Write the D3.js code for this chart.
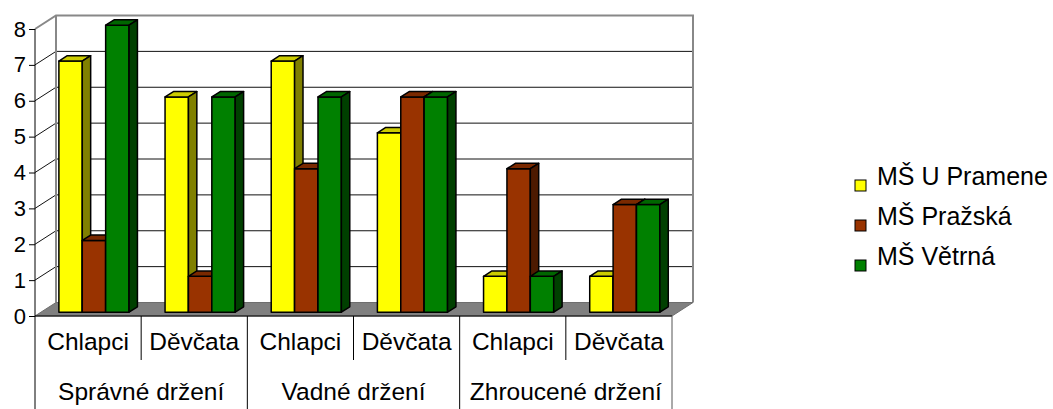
<!DOCTYPE html>
<html>
<head>
<meta charset="utf-8">
<script src="https://cdn.jsdelivr.net/npm/d3@7"></script>
<style>
  body { margin: 0; background: #fff; }
  svg { display: block; font-family: 'Liberation Sans', Arial, sans-serif; }
</style>
</head>
<body>
<svg id="chart" width="1053" height="409"></svg>
<script>
/* ----------  DATA  ---------- */
const categories = ['Chlapci', 'Děvčata', 'Chlapci', 'Děvčata', 'Chlapci', 'Děvčata']
const groups = ['Správné držení', 'Vadné držení', 'Zhroucené držení']
const seriesNames = ['MŠ U Pramene', 'MŠ Pražská', 'MŠ Větrná']
const uPramene = [7, 6, 7, 5, 1, 1]
const prazska = [2, 1, 4, 6, 4, 3]
const vetrna = [8, 6, 6, 6, 1, 3]
const tickValues = [0, 1, 2, 3, 4, 5, 6, 7, 8]

const seriesValues = [uPramene, prazska, vetrna]

/* ----------  LAYOUT  ---------- */
const left = 35
const right = 672
const DX = 21 // depth offset front -> back wall
const DY = -13.5
const F0 = 0.28 // bar front depth
const F1 = 0.68 // bar back depth

const colors = {
  front: ['#ffff00', '#993300', '#008000'],
  top: ['#cccc00', '#7a2900', '#006600'],
  side: ['#808000', '#4d1a00', '#004000']
}

const svg = d3.select('#chart')

const y = d3.scaleLinear().domain([0, 8]).range([316, 29])
const x = d3.scaleBand().domain(d3.range(categories.length)).range([left, right])
const inner = d3.scaleBand().domain(d3.range(seriesNames.length))
  .range([0, x.bandwidth()]).paddingOuter(0.77)

// project (front x, value, depth fraction) to screen
const P = (px, v, f) => [px + f * DX, y(v) + f * DY]
const poly = pts => pts.map(p => p.join(',')).join(' ')

/* ----------  WALLS & FLOOR  ---------- */
const walls = svg.append('g')

// gridlines on back and left wall
tickValues.filter(v => v > 0 && v < 8).forEach(v => {
  walls.append('line')
    .attr('x1', P(left, v, 1)[0]).attr('y1', P(left, v, 1)[1])
    .attr('x2', P(right, v, 1)[0]).attr('y2', P(right, v, 1)[1])
    .attr('stroke', '#111').attr('stroke-width', 1)
  walls.append('line')
    .attr('x1', P(left, v, 0)[0]).attr('y1', P(left, v, 0)[1])
    .attr('x2', P(left, v, 1)[0]).attr('y2', P(left, v, 1)[1])
    .attr('stroke', '#111').attr('stroke-width', 1)
})

// wall border (gray)
walls.append('polyline')
  .attr('points', poly([P(left, 8, 0), P(left, 8, 1), P(right, 8, 1), P(right, 0, 1)]))
  .attr('fill', 'none').attr('stroke', '#888').attr('stroke-width', 2)
walls.append('line')
  .attr('x1', P(left, 8, 1)[0]).attr('y1', P(left, 8, 1)[1])
  .attr('x2', P(left, 0, 1)[0]).attr('y2', P(left, 0, 1)[1])
  .attr('stroke', '#888').attr('stroke-width', 2)

// floor
walls.append('polygon')
  .attr('points', poly([P(left, 0, 0), P(right, 0, 0), P(right, 0, 1), P(left, 0, 1)]))
  .attr('fill', '#808080').attr('stroke', '#6e6e6e').attr('stroke-width', 1)

/* ----------  BARS  ---------- */
const bars = svg.append('g')
  .attr('stroke', '#000').attr('stroke-width', 1.5).attr('stroke-linejoin', 'round')

categories.forEach((c, i) => {
  seriesValues.forEach((vals, j) => {
    const v = vals[i]
    const x0 = x(i) + inner(j)
    const x1 = x0 + inner.bandwidth()
    bars.append('polygon')
      .attr('points', poly([P(x0, v, F0), P(x1, v, F0), P(x1, 0, F0), P(x0, 0, F0)]))
      .attr('fill', colors.front[j])
    bars.append('polygon')
      .attr('points', poly([P(x0, v, F0), P(x1, v, F0), P(x1, v, F1), P(x0, v, F1)]))
      .attr('fill', colors.top[j])
    bars.append('polygon')
      .attr('points', poly([P(x1, v, F0), P(x1, 0, F0), P(x1, 0, F1), P(x1, v, F1)]))
      .attr('fill', colors.side[j])
  })
})

/* ----------  VALUE AXIS  ---------- */
const axis = svg.append('g')
  .attr('transform', `translate(${left},0)`)
  .call(d3.axisLeft(y).tickValues(tickValues).tickSize(6).tickPadding(3).tickFormat(d3.format('d')))

axis.select('.domain').remove()
axis.selectAll('.tick line').attr('stroke', '#000')
axis.selectAll('.tick text')
  .style('font-size', '22px')
  .style('font-family', "'Liberation Sans', Arial, sans-serif")
  .attr('fill', '#000')

svg.append('line')
  .attr('x1', left).attr('y1', y(8)).attr('x2', left).attr('y2', 409)
  .attr('stroke', '#000').attr('stroke-width', 1)

/* ----------  CATEGORY TABLE  ---------- */
const table = svg.append('g')
table.append('line')
  .attr('x1', left).attr('y1', y(0)).attr('x2', right).attr('y2', y(0))
  .attr('stroke', '#000')

d3.range(1, categories.length + 1).forEach(i => {
  const bx = i === categories.length ? right : x(i)
  const isGroupEdge = i % 2 === 0
  table.append('line')
    .attr('x1', bx).attr('x2', bx)
    .attr('y1', y(0)).attr('y2', isGroupEdge ? 409 : 360)
    .attr('stroke', i === categories.length ? '#555' : '#000')
})

table.selectAll('.cat')
  .data(categories)
  .enter().append('text')
  .attr('class', 'cat')
  .attr('x', (d, i) => x(i) + x.bandwidth() / 2)
  .attr('y', 350)
  .attr('text-anchor', 'middle')
  .style('font-size', '24.5px')
  .text(d => d)

table.selectAll('.grp')
  .data(groups)
  .enter().append('text')
  .attr('class', 'grp')
  .attr('x', (d, i) => x(i * 2) + x.bandwidth())
  .attr('y', 400)
  .attr('text-anchor', 'middle')
  .style('font-size', '24.5px')
  .text(d => d)

/* ----------  LEGEND  ---------- */
const legend = svg.append('g').attr('transform', 'translate(855,0)')
seriesNames.forEach((name, j) => {
  const ly = 185 + j * 40
  legend.append('rect')
    .attr('x', 0).attr('y', ly - 5)
    .attr('width', 11).attr('height', 11)
    .attr('fill', colors.front[j]).attr('stroke', '#000')
  legend.append('text')
    .attr('x', 22).attr('y', ly)
    .style('font-size', '25px')
    .text(name)
})
</script>
</body>
</html>
